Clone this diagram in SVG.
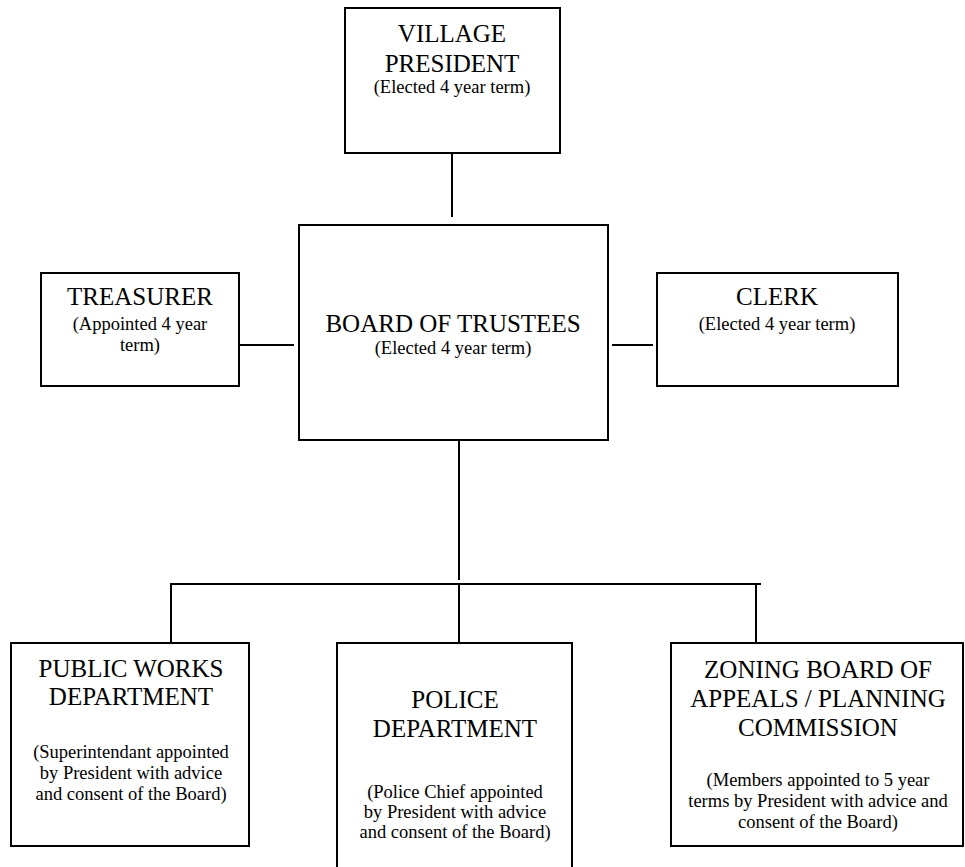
<svg xmlns="http://www.w3.org/2000/svg" width="965" height="867" viewBox="0 0 965 867">
<style>
.box{fill:#fff;stroke:#000;stroke-width:2}
.ln{stroke:#000;stroke-width:2;fill:none}
.t{font-size:25px;fill:#000;text-anchor:middle}
.s{font-size:18.5px;fill:#000;text-anchor:middle}
</style>
<rect width="965" height="867" fill="#fff"/>
<g id="connectors">
<line class="ln" x1="452" y1="153" x2="452" y2="217"/>
<line class="ln" x1="239" y1="345" x2="294" y2="345"/>
<line class="ln" x1="612" y1="345" x2="653" y2="345"/>
<line class="ln" x1="459" y1="440" x2="459" y2="580"/>
<line class="ln" x1="170" y1="584" x2="761" y2="584"/>
<line class="ln" x1="171" y1="584" x2="171" y2="643"/>
<line class="ln" x1="459" y1="584" x2="459" y2="643"/>
<line class="ln" x1="756" y1="584" x2="756" y2="643"/>
</g>
<g font-family="'Liberation Serif', 'Times New Roman', Tinos, 'DejaVu Serif', serif">
<g id="village-president">
<rect class="box" x="345" y="8" width="215" height="145"/>
<text class="t" x="452" y="42">VILLAGE</text>
<text class="t" x="452" y="72">PRESIDENT</text>
<text class="s" x="452" y="93">(Elected 4 year term)</text>
</g>
<g id="board-of-trustees">
<rect class="box" x="299" y="225" width="309" height="215"/>
<text class="t" x="453" y="332">BOARD OF TRUSTEES</text>
<text class="s" x="453" y="354">(Elected 4 year term)</text>
</g>
<g id="treasurer">
<rect class="box" x="41" y="273" width="198" height="113"/>
<text class="t" x="140" y="305">TREASURER</text>
<text class="s" x="140" y="330">(Appointed 4 year</text>
<text class="s" x="140" y="351">term)</text>
</g>
<g id="clerk">
<rect class="box" x="657" y="273" width="241" height="113"/>
<text class="t" x="777" y="305">CLERK</text>
<text class="s" x="777" y="330">(Elected 4 year term)</text>
</g>
<g id="public-works">
<rect class="box" x="11" y="643" width="238" height="203"/>
<text class="t" x="131" y="677">PUBLIC WORKS</text>
<text class="t" x="131" y="705">DEPARTMENT</text>
<text class="s" x="131" y="758">(Superintendant appointed</text>
<text class="s" x="131" y="779">by President with advice</text>
<text class="s" x="131" y="800">and consent of the Board)</text>
</g>
<g id="police">
<rect class="box" x="337" y="643" width="235" height="240"/>
<text class="t" x="455" y="708">POLICE</text>
<text class="t" x="455" y="737">DEPARTMENT</text>
<text class="s" x="455" y="798">(Police Chief appointed</text>
<text class="s" x="455" y="818">by President with advice</text>
<text class="s" x="455" y="838">and consent of the Board)</text>
</g>
<g id="zoning">
<rect class="box" x="671" y="643" width="292" height="203"/>
<text class="t" x="818" y="678">ZONING BOARD OF</text>
<text class="t" x="818" y="707">APPEALS / PLANNING</text>
<text class="t" x="818" y="736">COMMISSION</text>
<text class="s" x="818" y="786">(Members appointed to 5 year</text>
<text class="s" x="818" y="807">terms by President with advice and</text>
<text class="s" x="818" y="828">consent of the Board)</text>
</g>
</g>
</svg>
